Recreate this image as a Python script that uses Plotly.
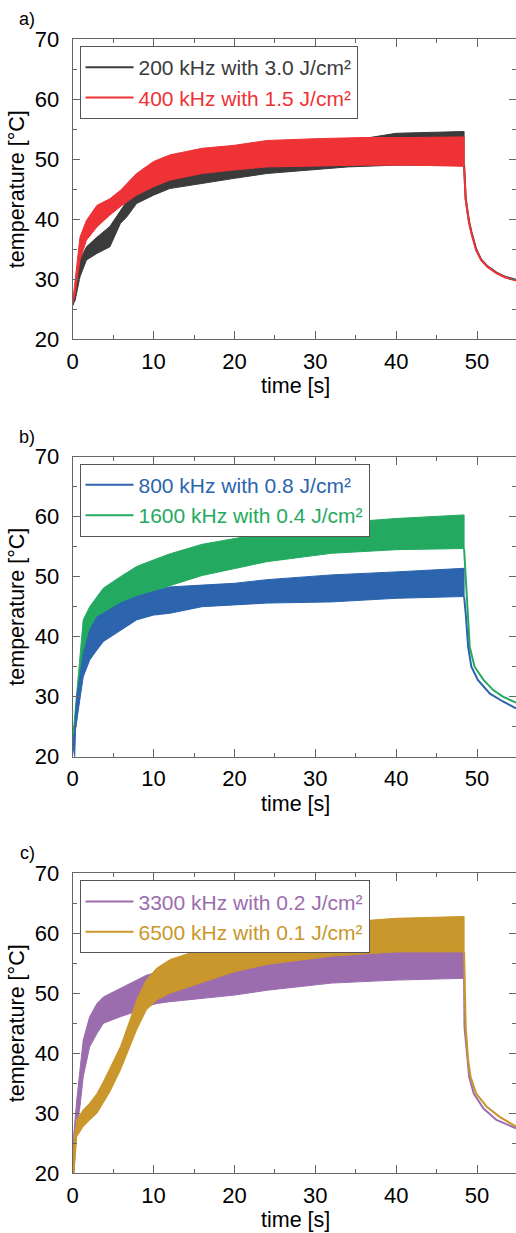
import plotly.graph_objects as go

W, H = 516, 1233
FONT = "Liberation Sans, Arial, sans-serif"
AXIS_GREY = "#666666"

# ---------------- a) 200 kHz / 400 kHz ----------------
t_200 = [0, 0.3, 0.9, 1.7, 3.0, 4.6, 5.9, 6.7, 7.9, 10, 12, 16, 20, 24, 30, 34, 40, 48.4]
hi_200 = [26.0, 28.5, 33.2, 35.4, 37.0, 38.8, 41.5, 43.0, 45.0, 47.0, 48.0, 49.0, 49.8, 50.5, 51.8, 53.0, 54.3, 54.6]
lo_200 = [25.6, 26.5, 30.4, 33.2, 34.3, 35.4, 39.3, 40.4, 42.6, 44.0, 45.1, 46.0, 46.8, 47.6, 48.3, 48.7, 49.0, 49.0]
tc_200 = [48.4, 48.6, 49.0, 49.3, 49.9, 50.5, 51.3, 52.4, 53.5, 54.82]
cool_200 = [49.0, 43.4, 39.7, 37.9, 35.0, 33.3, 32.15, 31.1, 30.4, 29.9]

t_400 = [0, 0.3, 0.9, 1.7, 3.0, 4.6, 5.9, 7.9, 10, 12, 16, 20, 24, 30, 36, 42, 48.4]
hi_400 = [26.2, 29.5, 37.0, 39.8, 42.3, 43.4, 44.8, 47.6, 49.6, 50.7, 51.8, 52.3, 53.1, 53.4, 53.6, 53.6, 53.7]
lo_400 = [25.8, 27.6, 33.2, 36.5, 38.7, 40.7, 42.1, 44.0, 45.4, 46.5, 47.6, 48.2, 48.7, 48.9, 49.0, 49.0, 48.8]
tc_400 = [48.4, 48.6, 49.0, 49.3, 49.9, 50.5, 51.3, 52.4, 53.5, 54.82]
cool_400 = [48.8, 43.2, 39.5, 37.7, 34.8, 33.2, 32.05, 31.0, 30.3, 29.8]

# ---------------- b) 800 kHz / 1600 kHz ----------------
t_800 = [0, 0.25, 0.35, 0.5, 0.9, 1.3, 2.1, 3.0, 3.8, 5.9, 7.9, 10, 12, 16, 20, 24, 32, 40, 48.4]
hi_800 = [23.0, 24.0, 27.0, 30.0, 33.5, 37.2, 41.1, 43.3, 43.9, 45.6, 46.7, 47.5, 48.3, 48.6, 48.9, 49.5, 50.3, 50.8, 51.4]
lo_800 = [22.0, 20.0, 24.5, 26.0, 30.0, 33.3, 36.1, 37.8, 39.2, 41.1, 42.8, 43.6, 43.9, 45.0, 45.3, 45.6, 45.8, 46.4, 46.7]
tc_800 = [48.4, 48.6, 48.9, 49.3, 50.1, 51.6, 53.2, 54.82]
cool_800 = [46.7, 43.9, 38.3, 35.0, 32.8, 30.5, 29.2, 28.05]

t_1600 = [0, 0.5, 0.9, 1.3, 2.1, 3.0, 3.8, 5.9, 7.9, 10, 12, 16, 20, 24, 32, 40, 48.4]
hi_1600 = [23.0, 30.6, 36.0, 42.8, 45.0, 46.7, 48.1, 50.0, 51.7, 52.8, 53.8, 55.4, 56.4, 57.3, 58.9, 59.7, 60.3]
lo_1600 = [22.5, 26.1, 32.0, 37.2, 41.1, 42.8, 43.9, 45.6, 46.7, 47.5, 48.5, 50.2, 51.4, 52.5, 53.9, 54.5, 54.7]
tc_1600 = [48.4, 48.8, 49.1, 49.7, 50.8, 52.0, 53.2, 54.82]
cool_1600 = [54.7, 43.9, 38.3, 35.0, 32.8, 31.1, 30.0, 29.0]

# ---------------- c) 3300 kHz / 6500 kHz ----------------
t_3300 = [0, 0.15, 0.5, 0.9, 1.3, 2.1, 3.0, 3.8, 5.9, 7.9, 9.1, 10.4, 12, 16, 20, 24, 32, 40, 48.4]
hi_3300 = [22.0, 26.7, 32.2, 36.7, 42.2, 46.1, 48.3, 49.4, 50.8, 52.2, 53.0, 53.5, 54.0, 54.5, 55.0, 55.5, 56.4, 56.9, 56.9]
lo_3300 = [20.0, 20.0, 27.8, 31.1, 36.1, 41.1, 43.3, 45.0, 46.1, 47.0, 47.8, 48.3, 48.6, 49.2, 49.7, 50.5, 51.7, 52.2, 52.5]
tc_3300 = [48.4, 48.45, 49.03, 49.6, 50.8, 52.4, 54.82]
cool_3300 = [52.5, 44.4, 36.1, 33.3, 30.8, 28.9, 27.5]

t_6500 = [0, 0.15, 0.5, 1.3, 2.1, 3.0, 3.8, 4.6, 5.9, 7.1, 7.9, 9.1, 10.4, 12, 16, 20, 24, 32, 40, 48.4]
hi_6500 = [22.0, 25.0, 28.9, 30.6, 31.7, 33.3, 35.3, 37.5, 41.1, 45.6, 48.9, 52.2, 54.2, 55.6, 57.4, 59.2, 60.1, 61.7, 62.5, 62.8]
lo_6500 = [20.0, 20.0, 26.1, 27.8, 28.9, 30.0, 31.7, 33.6, 37.2, 41.1, 43.9, 47.2, 48.9, 50.0, 51.8, 53.6, 54.8, 56.2, 56.9, 56.9]
tc_6500 = [48.4, 48.6, 48.9, 49.2, 49.9, 51.2, 52.8, 54.82]
cool_6500 = [56.9, 44.4, 38.9, 36.1, 33.3, 31.1, 29.4, 27.8]

# series: (label, color, heating time, upper, lower, cooling time, cooling temp, legend rank)
panels = [
    ("a)", [
        ("200 kHz with 3.0 J/cm²", "#3b3b3b", t_200, hi_200, lo_200, tc_200, cool_200, 1),
        ("400 kHz with 1.5 J/cm²", "#ee3236", t_400, hi_400, lo_400, tc_400, cool_400, 2),
    ]),
    ("b)", [
        ("1600 kHz with 0.4 J/cm²", "#24aa60", t_1600, hi_1600, lo_1600, tc_1600, cool_1600, 2),
        ("800 kHz with 0.8 J/cm²", "#2c64ae", t_800, hi_800, lo_800, tc_800, cool_800, 1),
    ]),
    ("c)", [
        ("3300 kHz with 0.2 J/cm²", "#9c6dae", t_3300, hi_3300, lo_3300, tc_3300, cool_3300, 1),
        ("6500 kHz with 0.1 J/cm²", "#c9972b", t_6500, hi_6500, lo_6500, tc_6500, cool_6500, 2),
    ]),
]

# plot-area geometry in pixels (top, bottom) for each panel
PLOT_LEFT = 72.7
X_MAX = 54.82
panel_px = [(39.0, 339.3), (456.7, 756.7), (873.3, 1173.3)]

fig = go.Figure()
annotations = []
layout = dict(
    template="none",
    width=W, height=H, autosize=False,
    margin=dict(l=0, r=0, t=0, b=0, pad=0, autoexpand=False),
    paper_bgcolor="white", plot_bgcolor="white",
    font=dict(family=FONT, size=21.5, color="black"),
    showlegend=True,
)

for i, (letter, series) in enumerate(panels):
    n = i + 1
    sx = "" if n == 1 else str(n)
    xa, ya = "x" + sx, "y" + sx
    top, bot = panel_px[i]
    ydom = [1 - bot / H, 1 - top / H]
    legend_name = "legend" + ("" if n == 1 else str(n))

    for name, color, t, hi, lo, tc, cool, rank in series:
        # oscillating heating phase drawn as the band between its envelopes
        fig.add_trace(go.Scatter(
            x=list(t) + list(t[::-1]), y=list(hi) + list(lo[::-1]),
            fill="toself", fillcolor=color, mode="lines",
            line=dict(color=color, width=1),
            showlegend=False, hoverinfo="skip", xaxis=xa, yaxis=ya,
        ))
        # cooling after the laser is switched off
        fig.add_trace(go.Scatter(
            x=tc, y=cool, mode="lines", line=dict(color=color, width=2),
            name=f'<span style="color:{color}">{name}</span>',
            legend=legend_name, legendrank=rank, xaxis=xa, yaxis=ya,
        ))

    # right-hand inward ticks without a spine
    yr = "y" + str(n + 3)
    fig.add_trace(go.Scatter(x=[None], y=[None], xaxis=xa, yaxis=yr,
                             showlegend=False, hoverinfo="skip"))

    common = dict(
        ticks="inside", tickcolor=AXIS_GREY, tickwidth=1,
        showgrid=False, zeroline=False, automargin=False,
        tickfont=dict(family=FONT, size=22, color="black"),
    )
    layout["xaxis" + sx] = dict(
        domain=[PLOT_LEFT / W, 1], anchor=ya, range=[0, X_MAX],
        tick0=0, dtick=10, ticklen=8, showline=True, linecolor=AXIS_GREY,
        linewidth=1, mirror="ticks", ticklabelstandoff=2,
        minor=dict(dtick=5, tick0=0, ticks="inside", ticklen=4, tickcolor=AXIS_GREY),
        **common,
    )
    layout["yaxis" + sx] = dict(
        domain=ydom, anchor=xa, range=[20, 70],
        tick0=20, dtick=10, ticklen=7, showline=True, linecolor=AXIS_GREY,
        linewidth=1, ticklabelstandoff=8,
        minor=dict(dtick=5, tick0=20, ticks="inside", ticklen=4, tickcolor=AXIS_GREY),
        **common,
    )
    layout["yaxis" + str(n + 3)] = dict(
        overlaying=ya, anchor=xa, side="right", range=[20, 70],
        tick0=20, dtick=10, ticklen=7, showline=False, showticklabels=False,
        minor=dict(dtick=5, tick0=20, ticks="inside", ticklen=4, tickcolor=AXIS_GREY),
        **common,
    )

    layout[legend_name] = dict(
        x=79.5 / W, y=1 - (top + 7) / H, xanchor="left", yanchor="top",
        bgcolor="white", bordercolor="#555555", borderwidth=1,
        font=dict(family=FONT, size=21, color="black"),
        itemwidth=48, tracegroupgap=0, traceorder="normal",
    )

    annotations += [
        dict(text=letter, x=27 / W, y=1 - (top - 20) / H, xref="paper", yref="paper",
             showarrow=False, font=dict(family=FONT, size=18, color="black"),
             xanchor="center", yanchor="middle"),
        dict(text="time [s]", x=295 / W, y=1 - (bot + 47) / H, xref="paper", yref="paper",
             showarrow=False, font=dict(family=FONT, size=21.5, color="black"),
             xanchor="center", yanchor="middle"),
        dict(text="temperature [°C]", x=17 / W, y=1 - ((top + bot) / 2) / H,
             xref="paper", yref="paper", textangle=-90, showarrow=False,
             font=dict(family=FONT, size=21.5, color="black"),
             xanchor="center", yanchor="middle"),
    ]

layout["annotations"] = annotations
fig.update_layout(**layout)
fig.write_html("out.html")
